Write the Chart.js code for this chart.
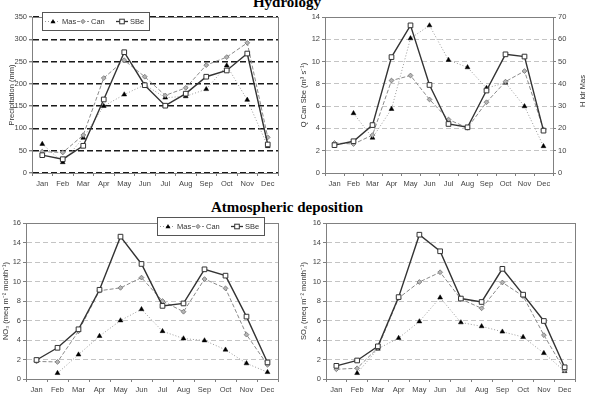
<!DOCTYPE html>
<html><head><meta charset="utf-8">
<script src="https://cdn.jsdelivr.net/npm/chart.js@4/dist/chart.umd.min.js"></script>
<style>
body{margin:0;background:#fff;width:592px;height:404px;overflow:hidden;position:relative;font-family:"Liberation Sans",Arial,sans-serif}
canvas{position:absolute}
.title{position:absolute;font-family:"Liberation Serif","Times New Roman",serif;font-weight:bold;font-size:15px;line-height:15px;color:#000;white-space:nowrap;left:0;width:574px;text-align:center}
</style></head><body>
<div class="title" style="top:-5px">Hydrology</div>
<div class="title" style="top:200px">Atmospheric deposition</div>
<canvas id="c1" width="296" height="200" style="left:0;top:0"></canvas>
<canvas id="c2" width="296" height="200" style="left:296px;top:0"></canvas>
<canvas id="c3" width="296" height="204" style="left:0;top:200px"></canvas>
<canvas id="c4" width="296" height="204" style="left:296px;top:200px"></canvas>
<script>
const months = ["Jan","Feb","Mar","Apr","May","Jun","Jul","Aug","Sep","Oct","Nov","Dec"];

// Precipitation (mm)
const precipMas = [65,24,79,150,176,198,169,172,188,241,164,60];
const precipCan = [48,46,85,213,253,216,174,191,242,260,292,80];
const precipSBe = [40,31,61,165,271,197,151,178,216,230,268,64];

// Discharge Q Can / SBe (m3 s-1) and H idr Mas (right axis)
const qCan = [2.7,2.6,3.4,8.3,8.75,6.6,4.8,4.05,6.35,8.2,9.15,3.9];
const qSBe = [2.5,2.85,4.3,10.4,13.25,7.9,4.4,4.1,7.4,10.65,10.45,3.8];
const hMas = [null,26.8,15.8,28.7,60.4,66.2,50.7,47.4,38.1,40.5,29.9,12];

// NO3 deposition (meq m-2 month-1)
const no3Mas = [null,0.6,2.5,4.4,6.0,7.15,4.9,4.15,3.95,3.0,1.6,0.7];
const no3Can = [1.8,1.75,4.9,9.05,9.35,10.4,8.0,6.9,10.25,9.3,4.55,1.45];
const no3SBe = [1.95,3.2,5.1,9.15,14.6,11.8,7.5,7.75,11.25,10.6,6.4,1.7];

// SO4 deposition (meq m-2 month-1)
const so4Mas = [null,0.6,3.1,4.2,5.9,8.35,5.8,5.4,4.85,4.3,2.65,0.8];
const so4Can = [1.0,1.1,3.2,8.3,9.95,10.95,8.2,7.25,9.9,8.5,4.5,0.9];
const so4SBe = [1.35,1.9,3.35,8.4,14.8,13.1,8.25,7.9,11.3,8.65,5.95,1.2];

const seriesNames = ["Mas","Can","SBe"];

const FONT_FAMILY = "'Liberation Sans', Arial, sans-serif";
const TICK_FONT = {family:FONT_FAMILY, size:7.5};
const TICK_COLOR = "#444";
const AXIS_COLOR = "#808080";

function styleMas(data, axis){
  return {label:seriesNames[0], data, yAxisID: axis||'y', borderColor:'#9a9a9a', borderWidth:1, borderDash:[1,2],
    pointStyle:'triangle', pointRadius:2.8, pointBackgroundColor:'#000', pointBorderColor:'#000', pointBorderWidth:0.5,
    spanGaps:false, tension:0, order:3};
}
function styleCan(data){
  return {label:seriesNames[1], data, yAxisID:'y', borderColor:'#8a8a8a', borderWidth:1, borderDash:[4,2],
    pointStyle:'rectRot', pointRadius:2.4, pointBackgroundColor:'#b5b5b5', pointBorderColor:'#707070', pointBorderWidth:0.8,
    tension:0, order:2};
}
function styleSBe(data){
  return {label:seriesNames[2], data, yAxisID:'y', borderColor:'#333', borderWidth:1.4,
    pointStyle:'rect', pointRadius:3.3, pointBackgroundColor:'#fff', pointBorderColor:'#333', pointBorderWidth:1,
    tension:0, order:1};
}

function drawLegendMarker(ctx, type, x, y){
  ctx.save();
  if(type===0){
    ctx.fillStyle='#000';
    ctx.beginPath(); ctx.moveTo(x, y-2.5); ctx.lineTo(x+2.5, y+1.8); ctx.lineTo(x-2.5, y+1.8); ctx.closePath(); ctx.fill();
  } else if(type===1){
    ctx.fillStyle='#b5b5b5'; ctx.strokeStyle='#707070'; ctx.lineWidth=0.8;
    ctx.beginPath(); ctx.moveTo(x, y-2.2); ctx.lineTo(x+2.2, y); ctx.lineTo(x, y+2.2); ctx.lineTo(x-2.2, y); ctx.closePath(); ctx.fill(); ctx.stroke();
  } else {
    ctx.fillStyle='#fff'; ctx.strokeStyle='#333'; ctx.lineWidth=1;
    ctx.fillRect(x-2.3,y-2.3,4.6,4.6); ctx.strokeRect(x-2.3,y-2.3,4.6,4.6);
  }
  ctx.restore();
}

function makeLegendPlugin(bx, by){
  return {
    id:'customLegend',
    afterDraw(chart){
      const ctx = chart.ctx;
      const w=107, h=18;
      ctx.save();
      ctx.fillStyle='#fff'; ctx.fillRect(bx,by,w,h);
      ctx.strokeStyle='#555'; ctx.lineWidth=1; ctx.strokeRect(bx+0.5,by+0.5,w,h);
      const cy = by + h/2 + 0.5;
      const items = [
        {line:[3,16], mk:11, tx:20, dash:[1,2], col:'#9a9a9a', lw:1},
        {line:[35,47], mk:41, tx:49, dash:[3,2], col:'#8a8a8a', lw:1},
        {line:[74,86], mk:80, tx:88, dash:[], col:'#333', lw:1.3}
      ];
      items.forEach((it,i)=>{
        ctx.save();
        ctx.strokeStyle=it.col; ctx.lineWidth=it.lw; ctx.setLineDash(it.dash);
        ctx.beginPath(); ctx.moveTo(bx+it.line[0], cy); ctx.lineTo(bx+it.line[1], cy); ctx.stroke();
        ctx.restore();
        drawLegendMarker(ctx, i, bx+it.mk, cy);
        ctx.fillStyle='#333'; ctx.font="7.5px " + FONT_FAMILY;
        ctx.textBaseline='middle'; ctx.textAlign='left';
        ctx.fillText(seriesNames[i], bx+it.tx, cy);
      });
      ctx.restore();
    }
  };
}

const frame = {
  id:'frame',
  afterDatasetsDraw(chart){
    const a = chart.chartArea, ctx = chart.ctx;
    ctx.save(); ctx.strokeStyle=AXIS_COLOR; ctx.lineWidth=1;
    ctx.strokeRect(Math.round(a.left)+0.5, Math.round(a.top)+0.5, Math.round(a.right-a.left), Math.round(a.bottom-a.top));
    ctx.restore();
  }
};

// right-axis title drawn bottom-to-top like the original
const rightTitle = {
  id:'rightTitle',
  afterDraw(chart){
    const ctx = chart.ctx, a = chart.chartArea;
    ctx.save();
    ctx.translate(287, (a.top+a.bottom)/2 - 4);
    ctx.rotate(-Math.PI/2);
    ctx.fillStyle='#333'; ctx.font="7.5px " + FONT_FAMILY;
    ctx.textAlign='center'; ctx.textBaseline='middle';
    ctx.fillText('H idr Mas', 0, 0);
    ctx.restore();
  }
};

function xScale(){
  return {
    type:'category', offset:true,
    grid:{offset:true, drawOnChartArea:false, drawTicks:true, tickLength:3, tickColor:AXIS_COLOR, color:AXIS_COLOR},
    border:{color:AXIS_COLOR, width:1},
    ticks:{font:TICK_FONT, color:TICK_COLOR, padding:3, maxRotation:0, autoSkip:false},
    afterFit(s){ s.height = 20; }
  };
}
function yScale(opts){
  return {
    type:'linear', position:opts.position||'left', min:opts.min, max:opts.max,
    grid:{display:true, drawOnChartArea:opts.grid!==false, color:opts.gridColor||'#c4c4c4', lineWidth:opts.gridWidth||1,
      tickBorderDash:[], tickColor:AXIS_COLOR, tickLength:3, drawTicks:true},
    border:{color:AXIS_COLOR, width:1, dash:opts.dash||[5,3]},
    ticks:{stepSize:opts.step, font:TICK_FONT, color:TICK_COLOR, padding:2},
    title:{display:!!opts.title, text:opts.title||'', font:{family:FONT_FAMILY, size:7.5}, color:'#333', padding:{top:opts.tpad||4, bottom:0}},
    afterFit(s){ s.width = opts.width; }
  };
}

function makeChart(id, datasets, scales, padding, plugins){
  return new Chart(document.getElementById(id), {
    type:'line',
    data:{labels:months, datasets},
    options:{
      responsive:false, maintainAspectRatio:false, animation:false,
      layout:{padding},
      plugins:{legend:{display:false}, tooltip:{enabled:false}},
      scales
    },
    plugins:[frame].concat(plugins||[])
  });
}

// Panel 1: Precipitation
makeChart('c1',
  [styleMas(precipMas), styleCan(precipCan), styleSBe(precipSBe)],
  {x:xScale(), y:yScale({min:0,max:350,step:50,title:'Precipitation (mm)',width:32,gridColor:'#1a1a1a',gridWidth:1.4,dash:[6,3],tpad:7})},
  {left:0, top:17, right:18, bottom:7},
  [makeLegendPlugin(42,12)]
);

// Panel 2: Discharge
const s2 = {x:xScale(),
  y:yScale({min:0,max:14,step:2,title:'Q Can Sbe (m³ s⁻¹)',width:29,tpad:3}),
  y2:yScale({min:0,max:70,step:10,title:'',width:30,position:'right',grid:false})};
makeChart('c2',
  [styleMas(hMas,'y2'), styleCan(qCan), styleSBe(qSBe)],
  s2,
  {left:0, top:17, right:9, bottom:7},
  [rightTitle]
);

// Panel 3: NO3
makeChart('c3',
  [styleMas(no3Mas), styleCan(no3Can), styleSBe(no3SBe)],
  {x:xScale(), y:yScale({min:0,max:16,step:2,title:'NO₃ (meq m⁻² month⁻¹)',width:26,tpad:1})},
  {left:0, top:23, right:18, bottom:5},
  [makeLegendPlugin(157,17)]
);

// Panel 4: SO4
makeChart('c4',
  [styleMas(so4Mas), styleCan(so4Can), styleSBe(so4SBe)],
  {x:xScale(), y:yScale({min:0,max:16,step:2,title:'SO₄ (meq m⁻² month⁻¹)',width:30,tpad:3})},
  {left:0, top:23, right:17, bottom:5}
);
</script>
</body></html>
